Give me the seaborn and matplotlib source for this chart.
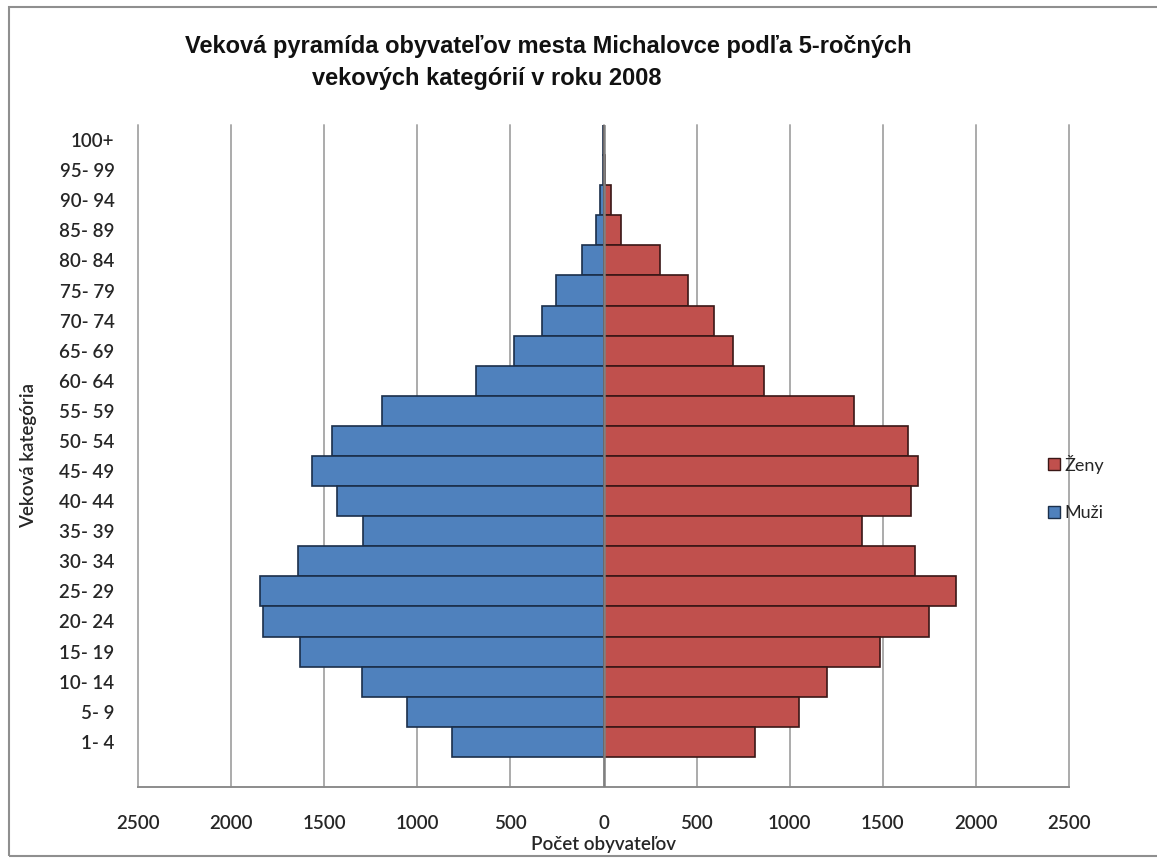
import matplotlib
matplotlib.use("Agg")
import matplotlib.pyplot as plt
import matplotlib.patches as mpatches
from matplotlib.ticker import FuncFormatter
import seaborn as sns

# Age groups, oldest at the top
categories = ['100+', '95- 99', '90- 94', '85- 89', '80- 84', '75- 79', '70- 74',
              '65- 69', '60- 64', '55- 59', '50- 54', '45- 49', '40- 44', '35- 39',
              '30- 34', '25- 29', '20- 24', '15- 19', '10- 14', '5- 9', '1- 4']
muzi = [3, 5, 18, 42, 114, 255, 332, 481, 685, 1189, 1458, 1563, 1431, 1291,
        1641, 1847, 1829, 1628, 1297, 1055, 811]
zeny = [5, 6, 41, 93, 301, 452, 595, 697, 864, 1347, 1636, 1689, 1653, 1388,
        1675, 1891, 1750, 1484, 1202, 1051, 813]
x_ticks = [-2500, -2000, -1500, -1000, -500, 0, 500, 1000, 1500, 2000, 2500]

title_line1 = 'Veková pyramída obyvateľov mesta Michalovce podľa 5-ročných'
title_line2 = 'vekových kategórií v roku 2008'

sns.set_style("white")
plt.rcParams['font.family'] = ['Lato', 'DejaVu Sans']

W, H = 1157, 861
fig = plt.figure(figsize=(W / 100, H / 100), dpi=100)
ax = fig.add_axes([138 / W, 1 - 787 / H, (1069 - 138) / W, (787 - 125) / H])

blue, blue_edge = '#4F81BD', '#1B2F4A'
red, red_edge = '#C0504D', '#3A1716'

sns.barplot(x=[-v for v in muzi], y=categories, order=categories, orient='h',
            color=blue, edgecolor=blue_edge, linewidth=1.2, width=1.0,
            saturation=1, ax=ax, zorder=2)
sns.barplot(x=zeny, y=categories, order=categories, orient='h',
            color=red, edgecolor=red_edge, linewidth=1.2, width=1.0,
            saturation=1, ax=ax, zorder=2)

ax.set_ylim(len(categories) + 0.5, -0.5)
ax.set_xlim(-2500, 2500)
ax.set_xticks(x_ticks)
ax.xaxis.set_major_formatter(FuncFormatter(lambda v, p: f'{abs(int(round(v)))}'))

ax.xaxis.grid(True, color='#ABABAB', linewidth=1.4, zorder=0)
ax.yaxis.grid(False)
ax.set_axisbelow(True)
for gl in ax.get_xgridlines():
    gl.set_clip_on(False)

ax.axvline(0, color='#808080', linewidth=1.8, zorder=3)

for side in ('top', 'left', 'right'):
    ax.spines[side].set_visible(False)
ax.spines['bottom'].set_color('#8C8C8C')
ax.spines['bottom'].set_linewidth(1.4)

ax.tick_params(axis='x', direction='out', length=5, width=1.2, color='#8C8C8C',
               pad=15, labelsize=13.5, labelcolor='#262626')
ax.tick_params(axis='y', length=0, pad=17, labelsize=13.5, labelcolor='#262626')
for lbl in ax.get_xticklabels() + ax.get_yticklabels():
    lbl.set_fontweight('semibold')

ax.set_xlabel('Počet obyvateľov', fontsize=13.5, color='#262626', labelpad=3,
              fontweight='semibold')
ax.set_ylabel('Veková kategória', fontsize=13.5, color='#262626',
              fontweight='semibold')
ax.yaxis.set_label_coords((37 - 138) / (1069 - 138), 0.5)

title_family = ['Liberation Sans Narrow', 'Liberation Sans', 'DejaVu Sans']
fig.text(185 / W, 1 - 47 / H, title_line1, ha='left', va='center',
         fontsize=17, fontweight='bold', color='#111111', family=title_family)
fig.text(312 / W, 1 - 78 / H, title_line2, ha='left', va='center',
         fontsize=17, fontweight='bold', color='#111111', family=title_family)

handles = [mpatches.Patch(facecolor=red, edgecolor=red_edge, linewidth=1.0, label='Ženy'),
           mpatches.Patch(facecolor=blue, edgecolor=blue_edge, linewidth=1.0, label='Muži')]
fig.legend(handles=handles, loc='center left', bbox_to_anchor=(1032 / W, 1 - 488 / H),
           frameon=False, fontsize=13, handlelength=0.65, handleheight=0.65,
           handletextpad=0.25, labelspacing=1.75, labelcolor='#262626')

# chart-area frame
fig.patches.append(mpatches.Rectangle((9 / W, 1 - 856 / H), 1.2, (856 - 7) / H,
                                      transform=fig.transFigure, fill=False,
                                      edgecolor='#8F8F8F', linewidth=1.5))

fig.savefig('out.png', dpi=100)
